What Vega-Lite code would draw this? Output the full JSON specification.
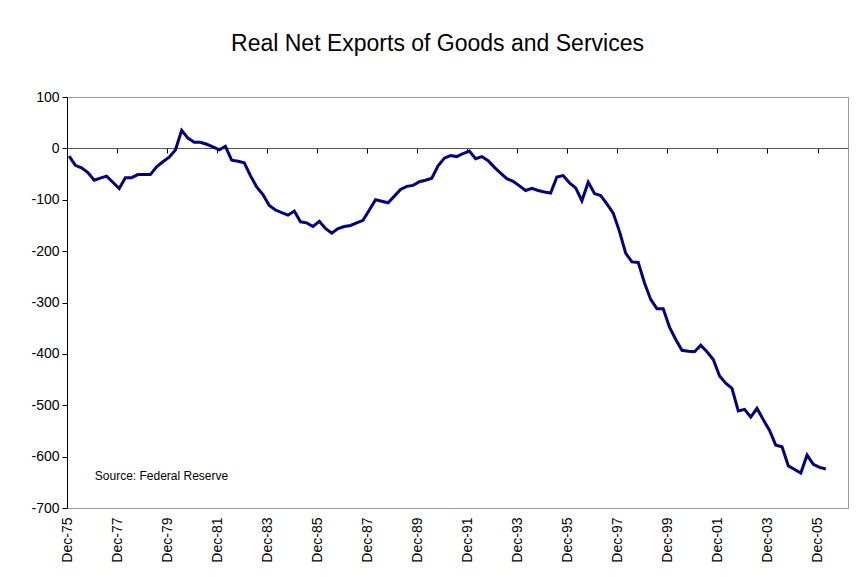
{
  "$schema": "https://vega.github.io/schema/vega-lite/v6.json",
  "autosize": {"type": "none"},
  "width": 781,
  "height": 411,
  "padding": {"left": 67, "top": 97, "right": 13, "bottom": 69},
  "background": "white",
  "config": {
    "font": "Liberation Sans",
    "view": {"stroke": "#9a9a9a", "strokeWidth": 1}
  },
  "title": {
    "text": "Real Net Exports of Goods and Services",
    "font": "Liberation Sans",
    "fontSize": 23,
    "fontWeight": "normal",
    "color": "black",
    "anchor": "middle",
    "dx": -20,
    "offset": 34
  },
  "datasets": {
    "series": [
      {"date": "1976-01-01", "value": -15},
      {"date": "1976-04-01", "value": -33},
      {"date": "1976-07-01", "value": -38},
      {"date": "1976-10-01", "value": -47},
      {"date": "1977-01-01", "value": -62},
      {"date": "1977-04-01", "value": -58},
      {"date": "1977-07-01", "value": -54},
      {"date": "1977-10-01", "value": -66},
      {"date": "1978-01-01", "value": -78},
      {"date": "1978-04-01", "value": -57},
      {"date": "1978-07-01", "value": -57},
      {"date": "1978-10-01", "value": -51},
      {"date": "1979-01-01", "value": -51},
      {"date": "1979-04-01", "value": -51},
      {"date": "1979-07-01", "value": -36},
      {"date": "1979-10-01", "value": -26},
      {"date": "1980-01-01", "value": -17},
      {"date": "1980-04-01", "value": -3},
      {"date": "1980-07-01", "value": 35},
      {"date": "1980-10-01", "value": 20},
      {"date": "1981-01-01", "value": 12},
      {"date": "1981-04-01", "value": 12},
      {"date": "1981-07-01", "value": 8},
      {"date": "1981-10-01", "value": 3},
      {"date": "1982-01-01", "value": -3},
      {"date": "1982-04-01", "value": 4},
      {"date": "1982-07-01", "value": -23},
      {"date": "1982-10-01", "value": -25},
      {"date": "1983-01-01", "value": -28},
      {"date": "1983-04-01", "value": -53},
      {"date": "1983-07-01", "value": -75},
      {"date": "1983-10-01", "value": -90},
      {"date": "1984-01-01", "value": -111},
      {"date": "1984-04-01", "value": -120},
      {"date": "1984-07-01", "value": -125},
      {"date": "1984-10-01", "value": -130},
      {"date": "1985-01-01", "value": -122},
      {"date": "1985-04-01", "value": -143},
      {"date": "1985-07-01", "value": -145},
      {"date": "1985-10-01", "value": -152},
      {"date": "1986-01-01", "value": -142},
      {"date": "1986-04-01", "value": -156},
      {"date": "1986-07-01", "value": -165},
      {"date": "1986-10-01", "value": -156},
      {"date": "1987-01-01", "value": -152},
      {"date": "1987-04-01", "value": -150},
      {"date": "1987-07-01", "value": -145},
      {"date": "1987-10-01", "value": -140},
      {"date": "1988-01-01", "value": -120},
      {"date": "1988-04-01", "value": -100},
      {"date": "1988-07-01", "value": -103},
      {"date": "1988-10-01", "value": -106},
      {"date": "1989-01-01", "value": -93},
      {"date": "1989-04-01", "value": -80},
      {"date": "1989-07-01", "value": -74},
      {"date": "1989-10-01", "value": -72},
      {"date": "1990-01-01", "value": -65},
      {"date": "1990-04-01", "value": -62},
      {"date": "1990-07-01", "value": -58},
      {"date": "1990-10-01", "value": -34},
      {"date": "1991-01-01", "value": -19},
      {"date": "1991-04-01", "value": -14},
      {"date": "1991-07-01", "value": -16},
      {"date": "1991-10-01", "value": -10},
      {"date": "1992-01-01", "value": -5},
      {"date": "1992-04-01", "value": -20},
      {"date": "1992-07-01", "value": -16},
      {"date": "1992-10-01", "value": -24},
      {"date": "1993-01-01", "value": -37},
      {"date": "1993-04-01", "value": -48},
      {"date": "1993-07-01", "value": -59},
      {"date": "1993-10-01", "value": -64},
      {"date": "1994-01-01", "value": -73},
      {"date": "1994-04-01", "value": -82},
      {"date": "1994-07-01", "value": -78},
      {"date": "1994-10-01", "value": -82},
      {"date": "1995-01-01", "value": -85},
      {"date": "1995-04-01", "value": -87},
      {"date": "1995-07-01", "value": -56},
      {"date": "1995-10-01", "value": -53},
      {"date": "1996-01-01", "value": -67},
      {"date": "1996-04-01", "value": -77},
      {"date": "1996-07-01", "value": -102},
      {"date": "1996-10-01", "value": -66},
      {"date": "1997-01-01", "value": -88},
      {"date": "1997-04-01", "value": -92},
      {"date": "1997-07-01", "value": -108},
      {"date": "1997-10-01", "value": -126},
      {"date": "1998-01-01", "value": -162},
      {"date": "1998-04-01", "value": -204},
      {"date": "1998-07-01", "value": -221},
      {"date": "1998-10-01", "value": -222},
      {"date": "1999-01-01", "value": -262},
      {"date": "1999-04-01", "value": -294},
      {"date": "1999-07-01", "value": -312},
      {"date": "1999-10-01", "value": -312},
      {"date": "2000-01-01", "value": -348},
      {"date": "2000-04-01", "value": -372},
      {"date": "2000-07-01", "value": -393},
      {"date": "2000-10-01", "value": -395},
      {"date": "2001-01-01", "value": -396},
      {"date": "2001-04-01", "value": -383},
      {"date": "2001-07-01", "value": -396},
      {"date": "2001-10-01", "value": -411},
      {"date": "2002-01-01", "value": -443},
      {"date": "2002-04-01", "value": -457},
      {"date": "2002-07-01", "value": -467},
      {"date": "2002-10-01", "value": -511},
      {"date": "2003-01-01", "value": -508},
      {"date": "2003-04-01", "value": -523},
      {"date": "2003-07-01", "value": -506},
      {"date": "2003-10-01", "value": -528},
      {"date": "2004-01-01", "value": -549},
      {"date": "2004-04-01", "value": -578},
      {"date": "2004-07-01", "value": -581},
      {"date": "2004-10-01", "value": -618},
      {"date": "2005-01-01", "value": -625},
      {"date": "2005-04-01", "value": -632},
      {"date": "2005-07-01", "value": -597},
      {"date": "2005-10-01", "value": -615},
      {"date": "2006-01-01", "value": -621},
      {"date": "2006-04-01", "value": -624}
    ],
    "note": [
      {"label": "Source: Federal Reserve"}
    ]
  },
  "layer": [
    {
      "data": {"name": "note"},
      "mark": {"type": "text", "align": "left", "baseline": "middle", "fontSize": 12, "font": "Liberation Sans", "color": "black"},
      "encoding": {
        "x": {
          "datum": {"year": 1977, "month": 1, "date": 10},
          "type": "temporal",
          "scale": {"domain": [{"year": 1975, "month": 12, "date": 1}, {"year": 2007, "month": 2, "date": 19}]},
          "axis": {
            "orient": "bottom",
            "values": [
              {"year": 1975, "month": 12, "date": 1},
              {"year": 1977, "month": 12, "date": 1},
              {"year": 1979, "month": 12, "date": 1},
              {"year": 1981, "month": 12, "date": 1},
              {"year": 1983, "month": 12, "date": 1},
              {"year": 1985, "month": 12, "date": 1},
              {"year": 1987, "month": 12, "date": 1},
              {"year": 1989, "month": 12, "date": 1},
              {"year": 1991, "month": 12, "date": 1},
              {"year": 1993, "month": 12, "date": 1},
              {"year": 1995, "month": 12, "date": 1},
              {"year": 1997, "month": 12, "date": 1},
              {"year": 1999, "month": 12, "date": 1},
              {"year": 2001, "month": 12, "date": 1},
              {"year": 2003, "month": 12, "date": 1},
              {"year": 2005, "month": 12, "date": 1}
            ],
            "format": "%b-%y",
            "labelAngle": -90,
            "labelAlign": "right",
            "labelBaseline": "middle",
            "labelFontSize": 14,
            "labelColor": "black",
            "labelPadding": 9,
            "labelFlush": false,
            "labelOverlap": false,
            "ticks": false,
            "domain": true,
            "domainColor": "#9a9a9a",
            "grid": false,
            "title": null
          }
        },
        "y": {"datum": -638, "type": "quantitative"},
        "text": {"field": "label"}
      }
    },
    {
      "data": {"name": "series"},
      "mark": {"type": "line", "color": "#000080", "strokeWidth": 3, "strokeJoin": "miter"},
      "encoding": {
        "x": {
          "field": "date",
          "type": "temporal",
          "axis": {
            "orient": "bottom",
            "offset": -360,
            "values": [
              {"year": 1975, "month": 12, "date": 1},
              {"year": 1977, "month": 12, "date": 1},
              {"year": 1979, "month": 12, "date": 1},
              {"year": 1981, "month": 12, "date": 1},
              {"year": 1983, "month": 12, "date": 1},
              {"year": 1985, "month": 12, "date": 1},
              {"year": 1987, "month": 12, "date": 1},
              {"year": 1989, "month": 12, "date": 1},
              {"year": 1991, "month": 12, "date": 1},
              {"year": 1993, "month": 12, "date": 1},
              {"year": 1995, "month": 12, "date": 1},
              {"year": 1997, "month": 12, "date": 1},
              {"year": 1999, "month": 12, "date": 1},
              {"year": 2001, "month": 12, "date": 1},
              {"year": 2003, "month": 12, "date": 1},
              {"year": 2005, "month": 12, "date": 1}
            ],
            "labels": false,
            "ticks": true,
            "tickSize": 5,
            "tickColor": "black",
            "domain": true,
            "domainColor": "#555555",
            "grid": false,
            "title": null
          }
        },
        "y": {
          "field": "value",
          "type": "quantitative",
          "scale": {"domain": [-700, 100], "nice": false, "zero": false},
          "axis": {
            "values": [100, 0, -100, -200, -300, -400, -500, -600, -700],
            "labelExpr": "'' + datum.value",
            "labelFontSize": 14,
            "labelColor": "black",
            "labelPadding": 3,
            "tickSize": 5,
            "tickColor": "black",
            "domainColor": "black",
            "grid": false,
            "title": null
          }
        }
      }
    }
  ],
  "resolve": {"axis": {"x": "independent"}}
}
